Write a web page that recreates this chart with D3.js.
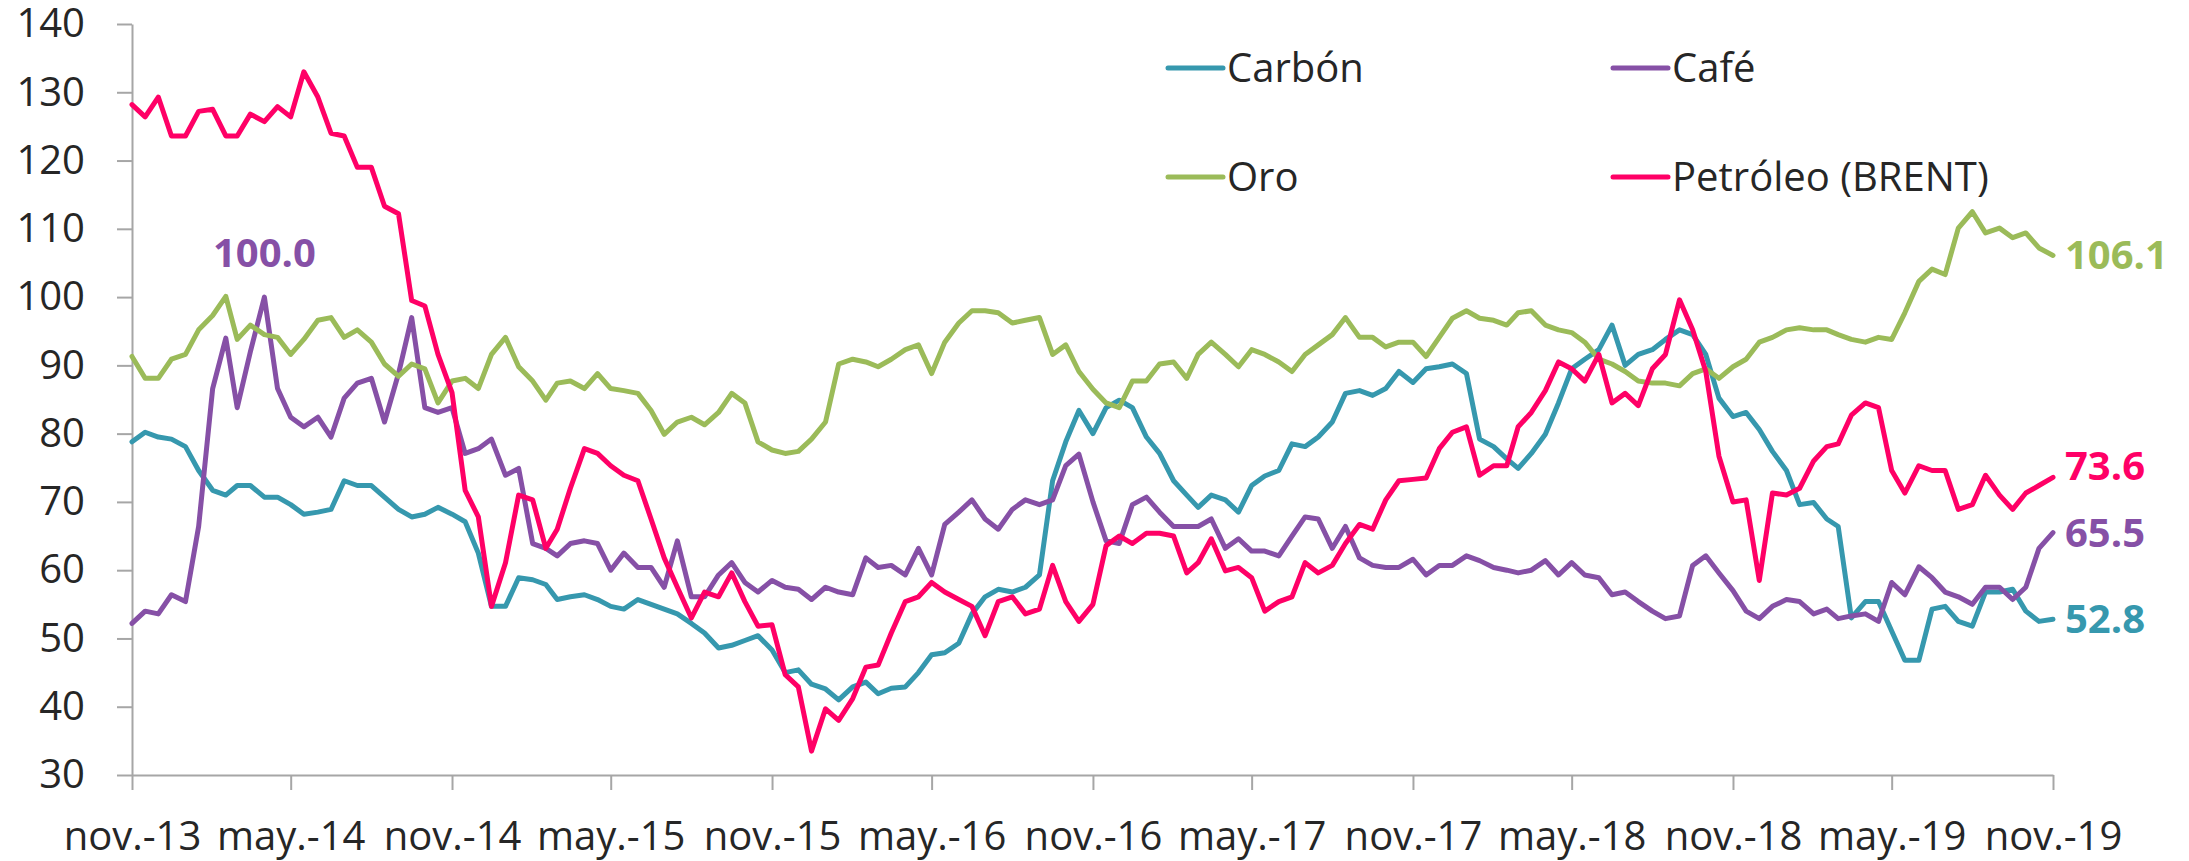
<!DOCTYPE html>
<html>
<head>
<meta charset="utf-8">
<script src="https://cdn.jsdelivr.net/npm/d3@7"></script>
<style>
	body { margin: 0; background: #ffffff; }
	text { font-family: "Open Sans", "Noto Sans", sans-serif; fill: #262626; }
</style>
</head>
<body>
<div id="vis"></div>
<script>
// declare constants
const FRAME_WIDTH = 2189;
const FRAME_HEIGHT = 861;
const MARGINS = {left: 132, right: 136, top: 24, bottom: 86};

const VIS_WIDTH = FRAME_WIDTH - MARGINS.left - MARGINS.right;
const VIS_HEIGHT = FRAME_HEIGHT - MARGINS.top - MARGINS.bottom;

const FONT_SIZE = 40;
const AXIS_COLOR = "#a6a6a6";

// data: one value every half month, from 1 nov. 2013 to 1 nov. 2019
const START_DATE = new Date(2013, 10, 1);

const SERIES_NAMES = ["Carbón", "Café", "Oro", "Petróleo (BRENT)"];
const SERIES_COLORS = ["#3698ae", "#8650a6", "#9bbb59", "#ff0066"];

const CARBON = [
	78.8, 80.2, 79.5, 79.2, 78.1, 74.6, 71.7, 71.0, 72.4, 72.4, 70.7, 70.7, 69.6, 68.2, 68.5, 68.9, 73.1, 72.4, 72.4, 70.7, 68.9, 67.8, 68.2, 69.2, 68.2,
	67.1, 62.5, 54.7, 54.7, 58.9, 58.6, 57.9, 55.7, 56.1, 56.4, 55.7, 54.7, 54.3, 55.7, 55.0, 54.3, 53.6, 52.2, 50.8, 48.6, 49.0, 49.7, 50.4, 48.3,
	45.0, 45.4, 43.3, 42.6, 41.0, 42.9, 43.6, 41.9, 42.7, 42.9, 45.0, 47.6, 47.9, 49.3, 53.6, 56.1, 57.2, 56.8, 57.5, 59.3, 73.1, 78.8, 83.4, 80.0,
	83.8, 84.9, 83.8, 79.5, 77.1, 73.1, 71.0, 69.2, 71.0, 70.3, 68.5, 72.4, 73.8, 74.6, 78.5, 78.1, 79.5, 81.7, 85.9, 86.3, 85.6, 86.6, 89.1, 87.5,
	89.5, 89.8, 90.2, 88.8, 79.2, 78.1, 76.3, 74.9, 77.1, 79.9, 84.5, 89.5, 90.9, 92.3, 95.9, 90.0, 91.6, 92.3, 93.8, 95.2, 94.5, 91.6, 85.2, 82.5,
	83.1, 80.6, 77.4, 74.6, 69.6, 69.9, 67.5, 66.4, 53.0, 55.4, 55.4, 51.1, 46.8, 46.8, 54.3, 54.7, 52.5, 51.8, 56.8, 56.8, 57.2, 54.0, 52.5, 52.8
];

const CAFE = [
	52.2, 54.0, 53.6, 56.4, 55.4, 66.4, 86.6, 94.0, 83.8, 92.0, 100.0, 86.6, 82.4, 81.0, 82.4, 79.5, 85.2, 87.4, 88.1, 81.7, 88.8, 97.0, 83.8, 83.1, 83.8,
	77.1, 77.8, 79.2, 73.9, 74.9, 63.9, 63.2, 62.1, 63.9, 64.3, 63.9, 60.0, 62.5, 60.4, 60.4, 57.5, 64.3, 56.1, 56.1, 59.3, 61.1, 58.2, 56.8, 58.5,
	57.5, 57.2, 55.7, 57.5, 56.8, 56.4, 61.8, 60.4, 60.7, 59.3, 63.2, 59.3, 66.7, 68.5, 70.3, 67.5, 66.0, 68.9, 70.3, 69.6, 70.3, 75.3, 77.0, 70.0,
	64.3, 63.9, 69.6, 70.7, 68.5, 66.4, 66.4, 66.4, 67.5, 63.2, 64.6, 62.8, 62.8, 62.1, 65.0, 67.8, 67.5, 63.2, 66.4, 61.8, 60.7, 60.4, 60.4, 61.6,
	59.3, 60.7, 60.7, 62.1, 61.4, 60.4, 60.0, 59.6, 60.0, 61.4, 59.3, 61.1, 59.3, 58.9, 56.4, 56.8, 55.4, 54.0, 52.9, 53.3, 60.7, 62.1, 59.6, 57.0,
	54.0, 52.9, 54.7, 55.7, 55.4, 53.6, 54.3, 52.9, 53.3, 53.6, 52.5, 58.2, 56.4, 60.5, 58.9, 56.8, 56.1, 55.0, 57.5, 57.5, 55.7, 57.5, 63.2, 65.5
];

const ORO = [
	91.3, 88.1, 88.1, 90.9, 91.6, 95.2, 97.3, 100.1, 93.8, 95.9, 94.5, 94.1, 91.6, 93.8, 96.6, 97.0, 94.1, 95.2, 93.4, 90.2, 88.4, 90.2, 89.5, 84.5, 87.7,
	88.1, 86.6, 91.6, 94.1, 89.8, 87.7, 84.9, 87.4, 87.7, 86.6, 88.8, 86.6, 86.3, 85.9, 83.4, 79.9, 81.7, 82.4, 81.3, 83.1, 85.9, 84.5, 78.8, 77.6,
	77.1, 77.4, 79.2, 81.7, 90.2, 90.9, 90.5, 89.8, 90.9, 92.3, 93.0, 88.8, 93.4, 96.2, 98.0, 98.0, 97.7, 96.2, 96.6, 97.0, 91.6, 93.0, 89.1, 86.5,
	84.5, 83.8, 87.7, 87.7, 90.2, 90.5, 88.1, 91.6, 93.4, 91.6, 89.8, 92.3, 91.6, 90.5, 89.1, 91.6, 93.0, 94.5, 97.0, 94.1, 94.1, 92.7, 93.4, 93.4,
	91.3, 94.1, 96.9, 98.0, 96.9, 96.6, 95.9, 97.7, 98.0, 95.9, 95.2, 94.8, 93.4, 90.9, 90.2, 89.1, 87.7, 87.4, 87.4, 87.0, 88.8, 89.5, 88.1, 89.8,
	90.9, 93.4, 94.1, 95.2, 95.5, 95.2, 95.2, 94.5, 93.8, 93.4, 94.1, 93.8, 97.7, 102.3, 104.1, 103.3, 110.1, 112.5, 109.4, 110.1, 108.7, 109.4, 107.2, 106.1
];

const PETROLEO = [
	128.2, 126.4, 129.3, 123.6, 123.6, 127.2, 127.5, 123.6, 123.6, 126.8, 125.7, 127.9, 126.4, 133.0, 129.3, 124.0, 123.6, 119.0, 119.0, 113.3, 112.2, 99.5, 98.7, 91.6, 86.0,
	71.7, 67.8, 54.7, 61.1, 71.0, 70.3, 63.2, 66.0, 72.0, 77.8, 77.1, 75.3, 73.9, 73.1, 67.5, 61.8, 57.5, 53.0, 56.8, 56.1, 59.6, 55.4, 51.8, 52.0,
	44.7, 42.9, 33.5, 39.7, 38.0, 41.2, 45.8, 46.1, 50.8, 55.4, 56.1, 58.2, 56.8, 55.7, 54.7, 50.4, 55.4, 56.1, 53.6, 54.3, 60.7, 55.4, 52.5, 55.0,
	63.6, 65.0, 63.9, 65.4, 65.4, 65.0, 59.6, 61.1, 64.6, 59.9, 60.4, 58.9, 54.0, 55.4, 56.1, 61.1, 59.6, 60.7, 63.9, 66.7, 66.0, 70.3, 73.1, 73.3,
	73.5, 77.8, 80.2, 81.0, 73.9, 75.3, 75.3, 81.0, 83.1, 86.3, 90.5, 89.5, 87.7, 91.6, 84.5, 85.9, 84.1, 89.5, 91.6, 99.6, 95.2, 89.1, 76.7, 70.0,
	70.3, 58.5, 71.3, 71.0, 72.0, 76.0, 78.1, 78.5, 82.7, 84.5, 83.8, 74.6, 71.3, 75.3, 74.6, 74.6, 68.9, 69.6, 73.9, 71.0, 68.9, 71.3, 72.4, 73.6
];

const SERIES_VALUES = [CARBON, CAFE, ORO, PETROLEO];

const Y_TICKS = [30, 40, 50, 60, 70, 80, 90, 100, 110, 120, 130, 140];
const X_TICK_LABELS = ["nov.-13", "may.-14", "nov.-14", "may.-15", "nov.-15", "may.-16",
	"nov.-16", "may.-17", "nov.-17", "may.-18", "nov.-18", "may.-19", "nov.-19"];

// dates: 1st and 16th of every month
const DATES = CARBON.map((v, i) => {
	const m = d3.timeMonth.offset(START_DATE, Math.floor(i / 2));
	return i % 2 === 0 ? m : d3.timeDay.offset(m, 15);
});
const X_TICK_DATES = X_TICK_LABELS.map((l, i) => d3.timeMonth.offset(START_DATE, i * 6));

// frame
const FRAME = d3.select("#vis")
	.append("svg")
		.attr("width", FRAME_WIDTH)
		.attr("height", FRAME_HEIGHT);

// scales
const X_SCALE = d3.scaleTime()
	.domain([START_DATE, DATES[DATES.length - 1]])
	.range([MARGINS.left, MARGINS.left + VIS_WIDTH]);
const Y_SCALE = d3.scaleLinear()
	.domain([30, 140])
	.range([MARGINS.top + VIS_HEIGHT, MARGINS.top]);

// y axis
const Y_AXIS = FRAME.append("g")
	.attr("transform", "translate(" + MARGINS.left + ",0)")
	.call(d3.axisLeft(Y_SCALE).tickValues(Y_TICKS)
		.tickSize(15).tickSizeOuter(0).tickPadding(32));

// x axis
const X_AXIS = FRAME.append("g")
	.attr("transform", "translate(0," + (MARGINS.top + VIS_HEIGHT) + ")")
	.call(d3.axisBottom(X_SCALE).tickValues(X_TICK_DATES)
		.tickFormat((d, i) => X_TICK_LABELS[i])
		.tickSize(15).tickSizeOuter(0).tickPadding(32));

[Y_AXIS, X_AXIS].forEach((ax) => {
	ax.selectAll("path, line").attr("stroke", AXIS_COLOR).attr("stroke-width", 2);
	ax.selectAll("text").attr("font-size", FONT_SIZE + "px")
		.attr("font-family", null).attr("fill", "#262626");
});

// lines
const LINE = d3.line()
	.x((d, i) => X_SCALE(DATES[i]))
	.y((d) => Y_SCALE(d));

FRAME.selectAll(".series")
	.data(SERIES_VALUES)
	.enter()
	.append("path")
		.attr("class", "series")
		.attr("d", (d) => LINE(d))
		.attr("fill", "none")
		.attr("stroke", (d, i) => SERIES_COLORS[i])
		.attr("stroke-width", 5)
		.attr("stroke-linejoin", "round")
		.attr("stroke-linecap", "round");

// end labels
const END_SHIFT = [0, 0, 0, -11];
FRAME.selectAll(".endlabel")
	.data(SERIES_VALUES)
	.enter()
	.append("text")
		.attr("class", "endlabel")
		.attr("x", X_SCALE(DATES[DATES.length - 1]) + 12)
		.attr("y", (d, i) => Y_SCALE(d[d.length - 1]) + END_SHIFT[i])
		.attr("dy", "0.35em")
		.attr("font-size", FONT_SIZE + "px")
		.attr("font-weight", "bold")
		.style("fill", (d, i) => SERIES_COLORS[i])
		.text((d) => d3.format(".1f")(d[d.length - 1]));

// label on the peak of coffee
const PEAK = d3.maxIndex(CAFE);
FRAME.append("text")
	.attr("x", X_SCALE(DATES[PEAK]))
	.attr("y", Y_SCALE(CAFE[PEAK]) - 44)
	.attr("dy", "0.35em")
	.attr("text-anchor", "middle")
	.attr("font-size", FONT_SIZE + "px")
	.attr("font-weight", "bold")
	.style("fill", SERIES_COLORS[1])
	.text(d3.format(".1f")(CAFE[PEAK]));

// legend, two columns and two rows
const LEGEND_X = [1168, 1613];
const LEGEND_Y = [68, 177];
const LEGEND = FRAME.selectAll(".legend")
	.data(SERIES_NAMES)
	.enter()
	.append("g")
		.attr("class", "legend")
		.attr("transform", (d, i) => "translate(" + LEGEND_X[i % 2] + "," + LEGEND_Y[Math.floor(i / 2)] + ")");

LEGEND.append("line")
	.attr("x1", 0).attr("x2", 55)
	.attr("stroke", (d, i) => SERIES_COLORS[i])
	.attr("stroke-width", 5)
	.attr("stroke-linecap", "round");

LEGEND.append("text")
	.attr("x", 59)
	.attr("dy", "0.35em")
	.attr("font-size", FONT_SIZE + "px")
	.text((d) => d);
</script>
</body>
</html>
